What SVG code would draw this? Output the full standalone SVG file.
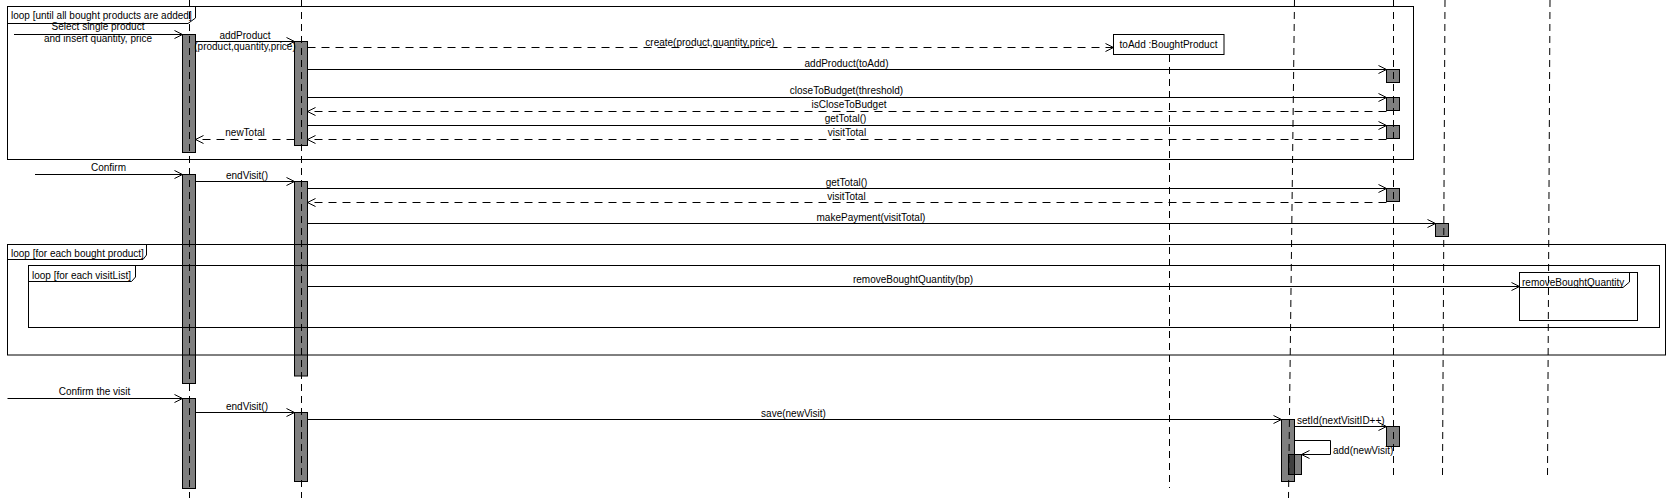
<svg xmlns="http://www.w3.org/2000/svg" width="1670" height="498" viewBox="0 0 1670 498">
<defs>
<style>
text{font-family:"Liberation Sans",Arial,sans-serif;font-size:10px;fill:#000}
.m{text-anchor:middle}
.ll{stroke:#000;stroke-width:1;stroke-dasharray:7,5;fill:none}
.act{fill:#000;fill-opacity:0.5;stroke:#000;stroke-width:1}
.fr{fill:none;stroke:#000;stroke-width:1}
.msg{stroke:#000;stroke-width:1;fill:none;marker-end:url(#ah)}
.ret{stroke:#000;stroke-width:1;fill:none;stroke-dasharray:8,6;marker-end:url(#ah)}
</style>
<marker id="ah" markerWidth="10" markerHeight="10" refX="9" refY="5" orient="auto" markerUnits="userSpaceOnUse">
<path d="M1,1 L9,5 L1,9" fill="none" stroke="#000" stroke-width="1"/>
</marker>
</defs>
<rect x="0" y="0" width="1670" height="498" fill="#fff"/>

<g id="frames">
<g id="loop1">
<rect class="fr" x="7.5" y="6.5" width="1406" height="153"/>
<path class="fr" d="M7.5,23.5 H188 L195.5,18 V6.5"/>
<text x="11" y="19">loop [until all bought products are added]</text>
</g>
<g id="loop2">
<rect class="fr" x="7.5" y="244.5" width="1658" height="110.5"/>
<path class="fr" d="M7.5,259.5 H143 L146.5,255 V244.5"/>
<text x="11" y="257">loop [for each bought product]</text>
</g>
<g id="loop3">
<rect class="fr" x="28.5" y="265.5" width="1631" height="62"/>
<path class="fr" d="M28.5,281.5 H131.5 L135.5,277 V265.5"/>
<text x="32" y="278.5">loop [for each visitList]</text>
</g>
<g id="ref-removeBoughtQuantity">
<rect class="fr" x="1519.5" y="272.5" width="118" height="48"/>
<path class="fr" d="M1519.5,287.5 H1623 L1629.5,282 V272.5"/>
<text x="1522" y="285.5">removeBoughtQuantity</text>
</g>
</g>

<g id="lifeline-1"><line class="ll" x1="189.5" y1="0" x2="189.5" y2="498"/></g>
<g id="lifeline-2"><line class="ll" x1="301.5" y1="0" x2="301.5" y2="498"/></g>
<g id="toAdd">
<line class="ll" x1="1169.5" y1="55" x2="1169.5" y2="488"/>
<rect x="1113.5" y="34.5" width="110.5" height="20" fill="#fff" stroke="#000"/>
<text class="m" x="1168.5" y="47.5">toAdd :BoughtProduct</text>
</g>
<g id="lifeline-4"><line class="ll" x1="1294.5" y1="0" x2="1288.5" y2="498"/></g>
<g id="lifeline-5"><line class="ll" x1="1393.5" y1="0" x2="1393.5" y2="475"/></g>
<g id="lifeline-6"><line class="ll" x1="1445" y1="0" x2="1442.5" y2="477"/></g>
<g id="lifeline-7"><line class="ll" x1="1550" y1="0" x2="1547.5" y2="477"/></g>

<g id="activations">
<rect class="act" x="182.5" y="34.5" width="13" height="118"/>
<rect class="act" x="294.5" y="41.5" width="13" height="104"/>
<rect class="act" x="1386.5" y="69.5" width="13" height="13"/>
<rect class="act" x="1386.5" y="97.5" width="13" height="13"/>
<rect class="act" x="1386.5" y="125.5" width="13" height="13"/>
<rect class="act" x="182.5" y="174.5" width="13" height="209"/>
<rect class="act" x="294.5" y="181.5" width="13" height="194.5"/>
<rect class="act" x="1386.5" y="188.5" width="13" height="13"/>
<rect class="act" x="1435.5" y="223.5" width="13" height="13"/>
<rect class="act" x="182.5" y="398.5" width="13" height="90"/>
<rect class="act" x="294.5" y="412.5" width="13" height="69"/>
<rect class="act" x="1281.5" y="419.5" width="13" height="62"/>
<rect class="act" x="1288.5" y="454.5" width="13" height="20"/>
<rect class="act" x="1386.5" y="426.5" width="13" height="20"/>
</g>

<g id="connectors">
<line class="msg" x1="14" y1="34.5" x2="182.5" y2="34.5"/>
<line class="msg" x1="195.5" y1="41.5" x2="294.5" y2="41.5"/>
<line class="ret" x1="307.5" y1="47.5" x2="1113.5" y2="47.5"/>
<line class="msg" x1="307.5" y1="69.5" x2="1386.5" y2="69.5"/>
<line class="msg" x1="307.5" y1="97.5" x2="1386.5" y2="97.5"/>
<line class="ret" x1="1386.5" y1="111.5" x2="307.5" y2="111.5"/>
<line class="msg" x1="307.5" y1="125.5" x2="1386.5" y2="125.5"/>
<line class="ret" x1="1386.5" y1="139.5" x2="307.5" y2="139.5"/>
<line class="ret" x1="294.5" y1="139.5" x2="195.5" y2="139.5"/>
<line class="msg" x1="35" y1="174.5" x2="182.5" y2="174.5"/>
<line class="msg" x1="195.5" y1="181.5" x2="294.5" y2="181.5"/>
<line class="msg" x1="307.5" y1="188.5" x2="1386.5" y2="188.5"/>
<line class="ret" x1="1386.5" y1="202.5" x2="307.5" y2="202.5"/>
<line class="msg" x1="307.5" y1="223.5" x2="1435.5" y2="223.5"/>
<line class="msg" x1="307.5" y1="286.5" x2="1519.5" y2="286.5"/>
<line class="msg" x1="7.5" y1="398.5" x2="182.5" y2="398.5"/>
<line class="msg" x1="195.5" y1="412.5" x2="294.5" y2="412.5"/>
<line class="msg" x1="307.5" y1="419.5" x2="1281.5" y2="419.5"/>
<line class="msg" x1="1294.5" y1="426.5" x2="1386.5" y2="426.5"/>
<path class="msg" d="M1294.5,440.5 H1330.5 V454.5 H1301.5"/>
</g>

<g id="labels">
<text class="m" x="98" y="30">Select single product</text>
<text class="m" x="98" y="42">and insert quantity, price</text>
<text class="m" x="245" y="38.5">addProduct</text>
<text class="m" x="245" y="49.5">(product,quantity,price)</text>
<text class="m" x="710" y="45.5">create(product,quantity,price)</text>
<text class="m" x="846.5" y="66.5">addProduct(toAdd)</text>
<text class="m" x="846.5" y="94">closeToBudget(threshold)</text>
<text class="m" x="849" y="108">isCloseToBudget</text>
<text class="m" x="845.5" y="122">getTotal()</text>
<text class="m" x="847" y="135.5">visitTotal</text>
<text class="m" x="245" y="136">newTotal</text>
<text class="m" x="108.5" y="171">Confirm</text>
<text class="m" x="247" y="179">endVisit()</text>
<text class="m" x="846.5" y="186">getTotal()</text>
<text class="m" x="846.5" y="199.5">visitTotal</text>
<text class="m" x="871" y="221">makePayment(visitTotal)</text>
<text class="m" x="913" y="283">removeBoughtQuantity(bp)</text>
<text class="m" x="94.5" y="395">Confirm the visit</text>
<text class="m" x="247" y="409.5">endVisit()</text>
<text class="m" x="793.5" y="417">save(newVisit)</text>
<text x="1297" y="423.5">setId(nextVisitID++)</text>
<text x="1333" y="453.5">add(newVisit)</text>
</g>
</svg>
